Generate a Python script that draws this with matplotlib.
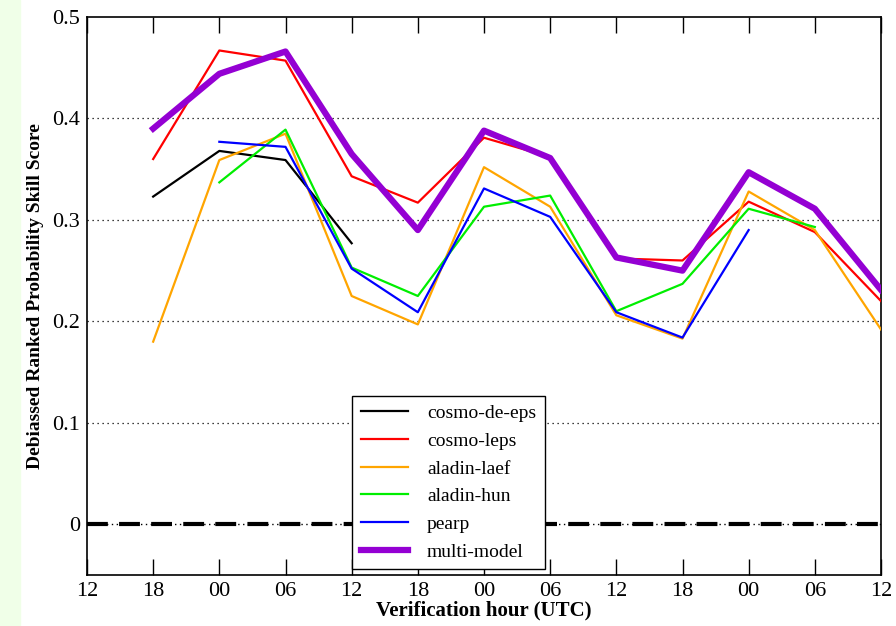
import matplotlib
matplotlib.use("Agg")
import matplotlib.pyplot as plt
from matplotlib.patches import Rectangle

# verification hours along the x axis (every 6 h)
hour_labels = ["12", "18", "00", "06", "12", "18", "00", "06", "12", "18", "00", "06", "12"]

# debiased RPSS per ensemble system
cosmo_de_eps = [0.323, 0.368, 0.359, 0.277]
cosmo_leps = [0.360, 0.467, 0.457, 0.343, 0.317, 0.381, 0.362, 0.262, 0.260, 0.318, 0.288, 0.220]
aladin_laef = [0.180, 0.359, 0.385, 0.225, 0.197, 0.352, 0.313, 0.206, 0.183, 0.328, 0.290, 0.192]
aladin_hun = [0.337, 0.389, 0.253, 0.225, 0.313, 0.324, 0.210, 0.237, 0.311, 0.293]
pearp = [0.377, 0.372, 0.252, 0.209, 0.331, 0.303, 0.209, 0.184, 0.290]
multi_model = [0.390, 0.444, 0.466, 0.365, 0.290, 0.388, 0.361, 0.263, 0.250, 0.347, 0.311, 0.231]

plt.rcParams.update({
    "font.family": "serif",
    "font.serif": ["Liberation Serif", "DejaVu Serif"],
})

fig = plt.figure(figsize=(8.96, 6.26), dpi=100)
fig.patches.append(Rectangle((0, 0), 20 / 896, 1, transform=fig.transFigure,
                             color="#f0ffe8", zorder=0))
ax = fig.add_axes([87 / 896, 51 / 626, 794 / 896, 558 / 626])

# dotted grid at 0.1..0.4, dash-dot-dot zero line
for yv in [0.1, 0.2, 0.3, 0.4]:
    ax.axhline(yv, color="black", ls=(0, (1, 3)), lw=0.9, zorder=1)
ax.axhline(0, color="black", ls=(0, (1, 2.5)), lw=1.0, zorder=1)
ax.axhline(0, color="black", ls=(0, (5, 2.7)), lw=3.0, zorder=1)

series = [
    ("cosmo-de-eps", cosmo_de_eps, 1, "black", 1.6),
    ("cosmo-leps", cosmo_leps, 1, "#ff0000", 1.6),
    ("aladin-laef", aladin_laef, 1, "#ffa500", 1.6),
    ("aladin-hun", aladin_hun, 2, "#00ee00", 1.6),
    ("pearp", pearp, 2, "#0000ff", 1.6),
    ("multi-model", multi_model, 1, "#9400d3", 4.5),
]
for name, vals, start, col, lw in series:
    xs = list(range(start, start + len(vals)))
    ax.plot(xs, vals, color=col, lw=lw, label=name, zorder=3)

ax.set_xlim(0, 12)
ax.set_ylim(-0.05, 0.5)
ax.set_xticks(range(len(hour_labels)))
ax.set_xticklabels(hour_labels, fontsize=16)
ax.set_yticks([0, 0.1, 0.2, 0.3, 0.4, 0.5])
ax.set_yticklabels(["0", "0.1", "0.2", "0.3", "0.4", "0.5"], fontsize=16)
ax.tick_params(axis="x", direction="in", length=11.5, width=1, top=True, pad=5)
ax.tick_params(axis="y", length=0, pad=5)
for sp in ax.spines.values():
    sp.set_linewidth(1.2)

ax.set_xlabel("Verification hour (UTC)", fontsize=15, fontweight="bold", labelpad=0)
ax.set_ylabel("Debiassed Ranked Probability Skill Score", fontsize=14,
              fontweight="bold", labelpad=6)

leg = ax.legend(loc="lower left", bbox_to_anchor=(0.334, 0.01), fontsize=14,
                frameon=True, fancybox=False, edgecolor="black", framealpha=1,
                handlelength=2.4, labelspacing=0.52, borderpad=0.45, handletextpad=1.0,
                borderaxespad=0.0)
leg.get_frame().set_linewidth(1.0)
leg.set_zorder(5)

fig.savefig("out.png", dpi=100)
